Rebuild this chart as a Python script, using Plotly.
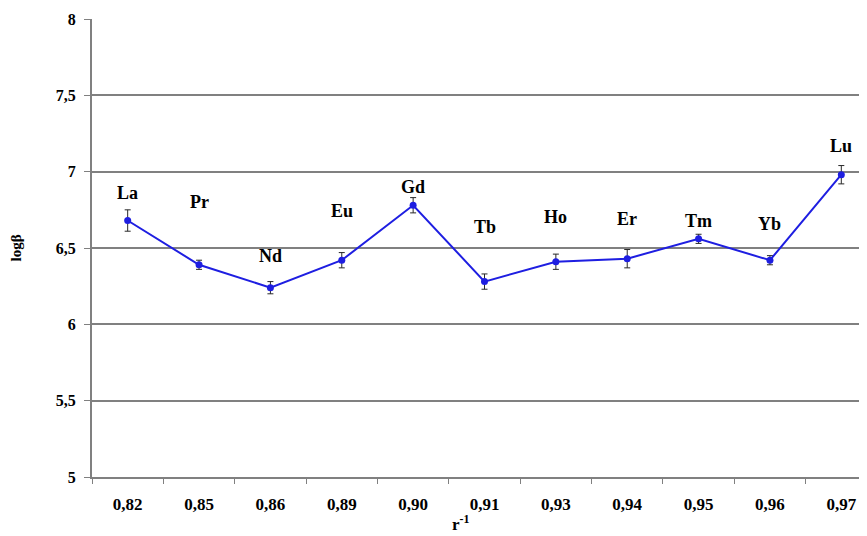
import plotly.graph_objects as go

categories = ["0,82", "0,85", "0,86", "0,89", "0,90", "0,91", "0,93", "0,94", "0,95", "0,96", "0,97"]
elements = ["La", "Pr", "Nd", "Eu", "Gd", "Tb", "Ho", "Er", "Tm", "Yb", "Lu"]
log_beta = [6.68, 6.39, 6.24, 6.42, 6.78, 6.28, 6.41, 6.43, 6.56, 6.42, 6.98]
errors = [0.07, 0.03, 0.04, 0.05, 0.05, 0.05, 0.05, 0.06, 0.03, 0.03, 0.06]
label_y = [6.86, 6.80, 6.45, 6.74, 6.90, 6.64, 6.70, 6.69, 6.68, 6.66, 7.17]

font = "Liberation Serif, Times New Roman, serif"
blue = "rgb(30,30,225)"

fig = go.Figure()
fig.add_trace(go.Scatter(
    x=categories, y=log_beta,
    mode="lines+markers",
    line=dict(color=blue, width=2),
    marker=dict(color=blue, size=7),
    error_y=dict(type="data", array=errors, visible=True, color="rgb(40,40,40)", thickness=1, width=3),
    showlegend=False,
))

for c, e, ly in zip(categories, elements, label_y):
    fig.add_annotation(x=c, y=ly, text="<b>%s</b>" % e, showarrow=False,
                       font=dict(family=font, size=18, color="black"))

# x-axis title, placed slightly left of centre as in the reference
fig.add_annotation(xref="paper", yref="paper", x=0.476, y=0, yanchor="top", yshift=-33,
                   text="<b>r<sup>-1</sup></b>", showarrow=False,
                   font=dict(family=font, size=17, color="black"))

# page body has an 8px margin: shift the figure so the plot area lands where the reference has it
fig.update_layout(
    width=859, height=528,
    margin=dict(l=84, r=0, t=11, b=59, autoexpand=False),
    paper_bgcolor="white", plot_bgcolor="white",
    separators=",.",
    font=dict(family=font, size=14, color="black"),
    xaxis=dict(
        type="category",
        range=[-0.5, 10.36],
        automargin=False,
        showgrid=False,
        showline=True, linecolor="rgb(128,128,128)", linewidth=2,
        ticks="outside", tickson="boundaries", ticklen=5, tickcolor="rgb(128,128,128)",
        ticklabelstandoff=11,
        tickfont=dict(family=font, size=17, color="black", weight="bold"),
    ),
    yaxis=dict(
        range=[5, 8],
        automargin=False,
        tickvals=[5, 5.5, 6, 6.5, 7, 7.5, 8],
        ticktext=["5", "5,5", "6", "6,5", "7", "7,5", "8"],
        showgrid=True, gridcolor="rgb(128,128,128)", gridwidth=2,
        showline=True, linecolor="rgb(128,128,128)", linewidth=2,
        ticks="outside", ticklen=6, tickcolor="rgb(128,128,128)",
        ticklabelstandoff=5,
        tickfont=dict(family=font, size=16, color="black", weight="bold"),
        title=dict(text="<b>logβ</b>", font=dict(family=font, size=15), standoff=33),
        zeroline=False,
    ),
)

fig.write_html("out.html")
